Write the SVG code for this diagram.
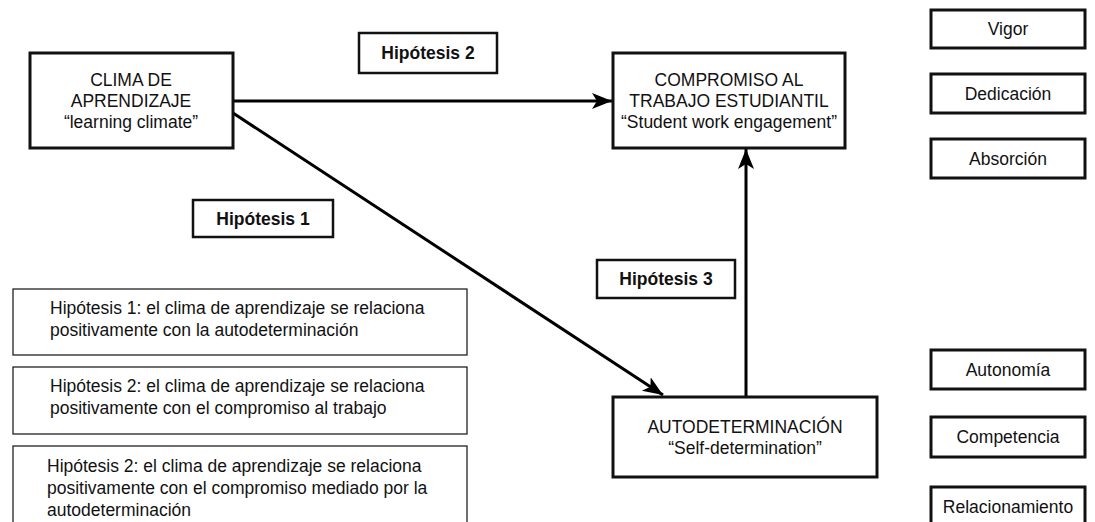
<svg xmlns="http://www.w3.org/2000/svg" width="1095" height="522" viewBox="0 0 1095 522">
<style>
text{font-family:"Liberation Sans",Arial,sans-serif;font-size:17.5px;fill:#111}
.c{text-anchor:middle}
.b{font-weight:bold}
.main{fill:#fff;stroke:#111;stroke-width:3}
.lab{fill:#fff;stroke:#111;stroke-width:2.5}
.hyp{fill:#fff;stroke:#222;stroke-width:1.3}
.dim{fill:#fff;stroke:#111;stroke-width:3}
.conn{stroke:#000;stroke-width:3;fill:none}
</style>
<defs>
<marker id="ah" markerWidth="22" markerHeight="18" refX="20" refY="9" orient="auto" markerUnits="userSpaceOnUse">
<path d="M0,1 L20,9 L0,17 L5,9 Z" fill="#000"/>
</marker>
</defs>
<rect width="1095" height="522" fill="#fff"/>
<g id="connectors">
<line class="conn" x1="233" y1="101" x2="612" y2="101" marker-end="url(#ah)"/>
<line class="conn" x1="233" y1="113" x2="663" y2="395" marker-end="url(#ah)"/>
<line class="conn" x1="746" y1="397" x2="746" y2="149" marker-end="url(#ah)"/>
</g>
<g id="clima">
<rect class="main" x="30" y="53" width="203" height="95"/>
<text class="c" x="131" y="86">CLIMA DE</text>
<text class="c" x="131" y="107">APRENDIZAJE</text>
<text class="c" x="131" y="128">“learning climate”</text>
</g>
<g id="compromiso">
<rect class="main" x="613" y="53" width="232" height="95"/>
<text class="c" x="729" y="86">COMPROMISO AL</text>
<text class="c" x="729" y="107">TRABAJO ESTUDIANTIL</text>
<text class="c" x="729" y="128">“Student work engagement”</text>
</g>
<g id="autodeterminacion">
<rect class="main" x="613" y="397" width="264" height="80"/>
<text class="c" x="745" y="433">AUTODETERMINACIÓN</text>
<text class="c" x="745" y="454">“Self-determination”</text>
</g>
<g id="h2label">
<rect class="lab" x="359" y="33" width="138" height="40"/>
<text class="c b" x="428" y="59">Hipótesis 2</text>
</g>
<g id="h1label">
<rect class="lab" x="193" y="200" width="140" height="37"/>
<text class="c b" x="263" y="225">Hipótesis 1</text>
</g>
<g id="h3label">
<rect class="lab" x="597" y="260" width="138" height="38"/>
<text class="c b" x="666" y="285">Hipótesis 3</text>
</g>
<g id="hyp1">
<rect class="hyp" x="13" y="289" width="454" height="66"/>
<text x="50" y="314">Hipótesis 1: el clima de aprendizaje se relaciona</text>
<text x="50" y="336">positivamente con la autodeterminación</text>
</g>
<g id="hyp2">
<rect class="hyp" x="13" y="367" width="454" height="67"/>
<text x="50" y="392">Hipótesis 2: el clima de aprendizaje se relaciona</text>
<text x="50" y="414">positivamente con el compromiso al trabajo</text>
</g>
<g id="hyp3">
<rect class="hyp" x="13" y="446" width="454" height="80"/>
<text x="47" y="472">Hipótesis 2: el clima de aprendizaje se relaciona</text>
<text x="47" y="494">positivamente con el compromiso mediado por la</text>
<text x="47" y="516">autodeterminación</text>
</g>
<g id="vigor">
<rect class="dim" x="931" y="10" width="154" height="38"/>
<text class="c" x="1008" y="35">Vigor</text>
</g>
<g id="dedicacion">
<rect class="dim" x="931" y="74" width="154" height="39"/>
<text class="c" x="1008" y="100">Dedicación</text>
</g>
<g id="absorcion">
<rect class="dim" x="931" y="139" width="154" height="39"/>
<text class="c" x="1008" y="165">Absorción</text>
</g>
<g id="autonomia">
<rect class="dim" x="931" y="350" width="154" height="39"/>
<text class="c" x="1008" y="376">Autonomía</text>
</g>
<g id="competencia">
<rect class="dim" x="931" y="417" width="154" height="40"/>
<text class="c" x="1008" y="443">Competencia</text>
</g>
<g id="relacionamiento">
<rect class="dim" x="931" y="487" width="154" height="40"/>
<text class="c" x="1008" y="513">Relacionamiento</text>
</g>
</svg>
